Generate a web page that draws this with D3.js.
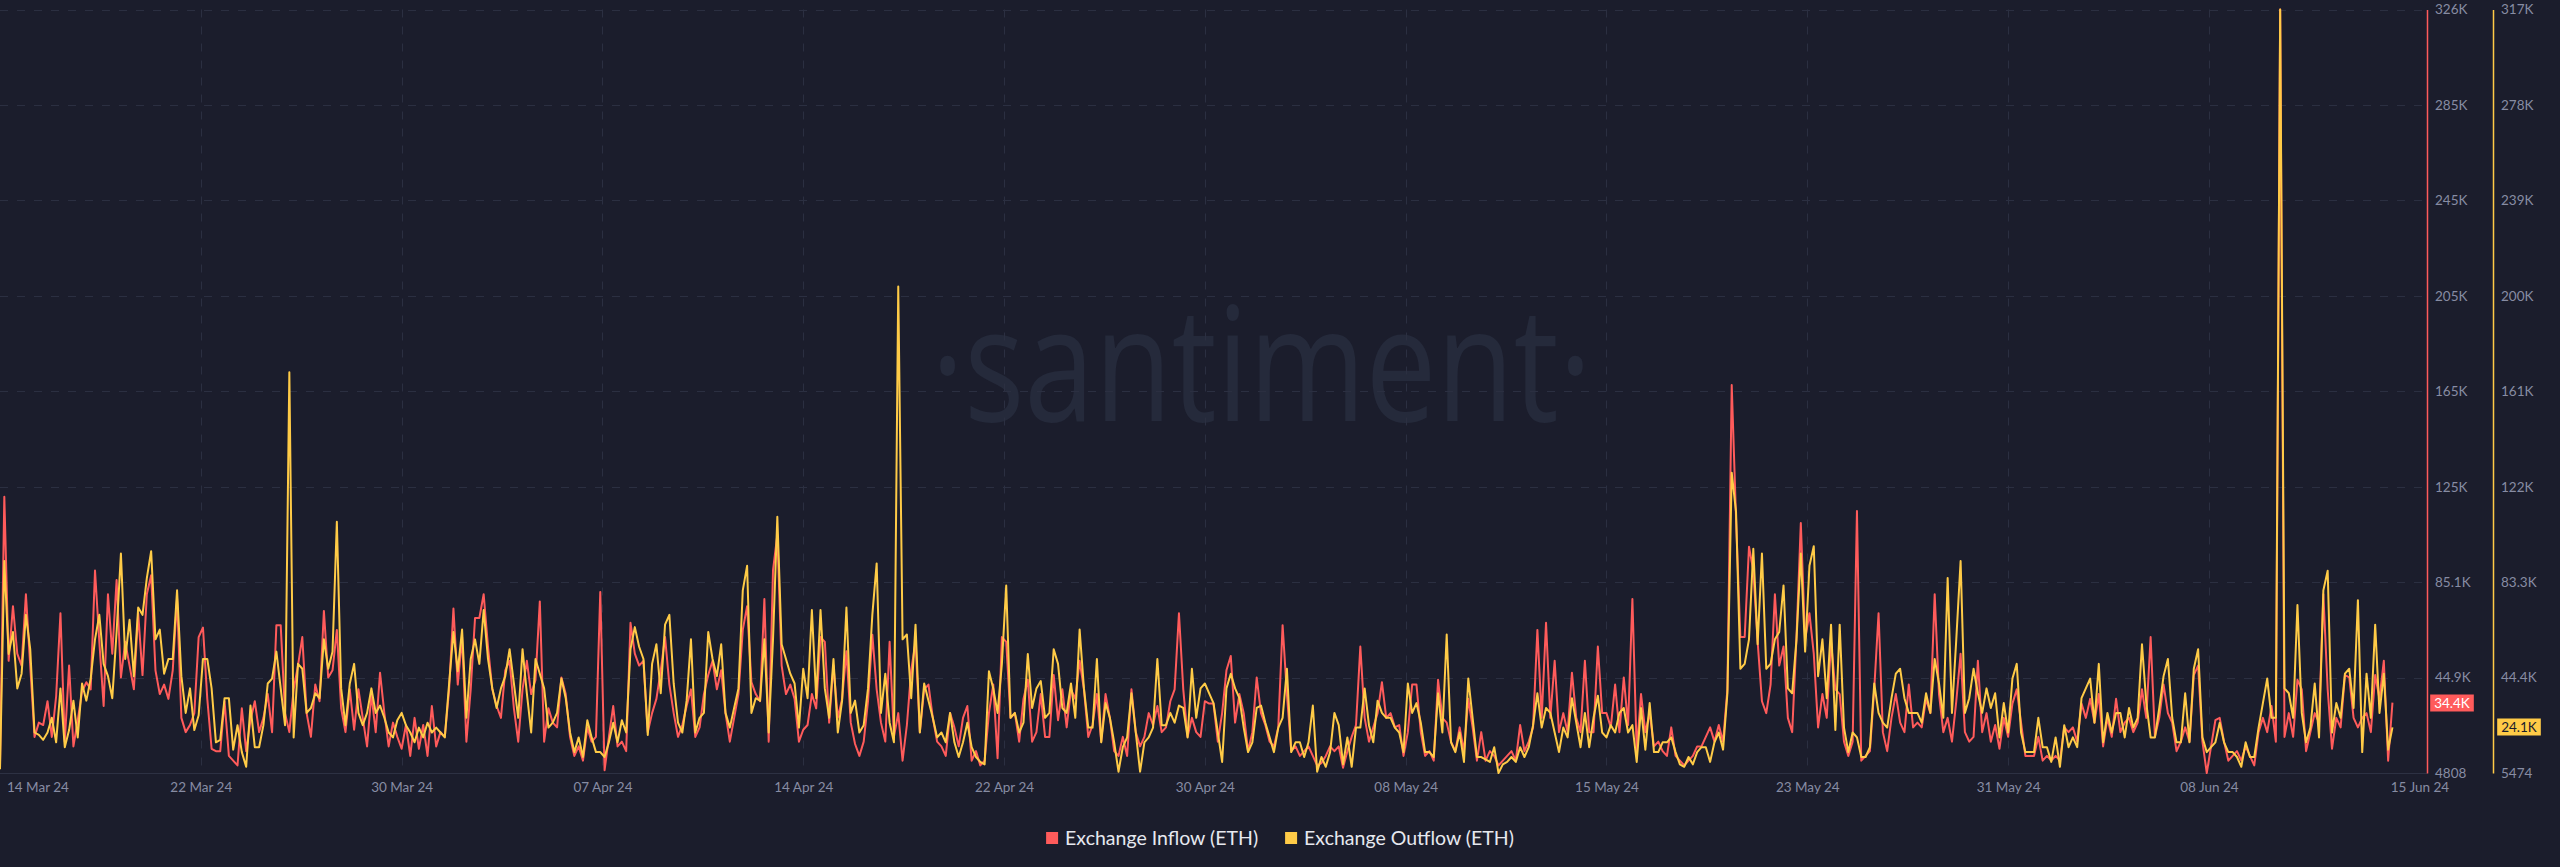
<!DOCTYPE html>
<html>
<head>
<meta charset="utf-8">
<script src="https://cdnjs.cloudflare.com/ajax/libs/d3/7.8.5/d3.min.js"></script>
<style>
  html, body { margin: 0; padding: 0; background: #1b1d2c; }
  svg { display: block; }
  text { font-family: Lato, "Noto Sans", sans-serif; }
</style>
</head>
<body>
<svg id="chart" width="2560" height="867"></svg>
<script>
// ETH exchange flows, 4h steps, values in thousands of ETH
const startTime = '2024-03-14T20:00:00Z';
const stepHours = 4;

const inflowK = [
  // 14 Mar - 22 Mar
  8, 121, 52, 75, 55, 50, 80, 50, 20, 26,
  25, 35, 20, 37, 72, 18, 50, 16, 27, 39,
  43, 40, 90, 60, 33, 80, 55, 86, 45, 60,
  50, 40, 72, 46, 80, 88, 48, 38, 42, 36,
  48, 78, 28, 22, 25, 30, 62, 66, 36, 15,
  14, 14, 35, 12, 10, 8, 32, 14, 27, 35,
  22, 28, 38, 22, 67, 67, 30, 22, 40, 50,
  62, 30, 20, 42, 35, 73, 45, 48, 65, 32,
  22, 40, 23, 40, 28, 16, 38, 22, 47, 30,
  16, 26, 20, 15, 25, 12, 28, 15, 25, 12,
  33, 16, 22, 20, 40, 74, 42, 62, 18, 40,
  70, 70, 80,
  // early april
  58, 40, 33, 28, 48, 52, 32, 18, 40, 52,
  38, 44, 77, 18, 32, 26, 24, 45, 38, 20,
  12, 16, 10, 24, 18, 20, 81, 6, 20, 33,
  16, 18, 14, 68, 55, 50, 52, 22, 30, 36,
  48, 62, 42, 30, 20, 25, 33, 40, 20, 24,
  38, 46, 52, 40, 48, 30, 18, 28, 38, 65,
  75, 43, 38, 35, 78, 18, 90, 105, 50, 38,
  42, 36, 18, 23, 25, 38, 32, 62, 60, 26,
  50, 28, 36, 56, 26, 17, 12, 18, 35, 63,
  40, 26, 18, 60, 20, 30, 10, 25, 48, 60,
  22, 40, 42, 28, 18, 16, 12, 30, 24, 16,
  28, 33, 10, 14,
  // late april - early may
  8, 10, 30, 42, 11, 62, 60, 28, 30, 18,
  36, 44, 18, 22, 38, 20, 20, 46, 27, 40,
  24, 40, 36, 52, 40, 20, 25, 38, 18, 38,
  28, 14, 12, 20, 12, 40, 22, 16, 20, 30,
  25, 33, 22, 24, 35, 40, 72, 40, 20, 28,
  22, 20, 35, 34, 34, 18, 30, 48, 54, 26,
  38, 30, 14, 22, 45, 30, 25, 18, 16, 24,
  67, 38, 14, 16, 12, 14, 16, 12, 8, 9,
  12, 16, 14, 16, 7, 14, 20, 25, 58, 28,
  18, 24, 30, 43, 28, 30, 24, 25, 12, 22,
  42, 42, 22, 12, 14, 10, 44, 28, 26, 18,
  14, 24, 14, 36,
  // mid may - end of may
  24, 10, 22, 10, 14, 12, 8, 10, 12, 14,
  10, 25, 14, 18, 24, 65, 28, 68, 28, 52,
  22, 30, 22, 47, 28, 22, 52, 22, 22, 58,
  30, 30, 24, 42, 22, 45, 25, 78, 14, 38,
  22, 30, 16, 18, 14, 12, 24, 12, 10, 8,
  10, 12, 16, 16, 20, 24, 18, 25, 18, 40,
  168, 112, 62, 62, 100, 90, 60, 35, 30, 42,
  80, 50, 58, 28, 22, 62, 110, 61, 72, 55,
  24, 38, 28, 60, 40, 38, 18, 12, 18, 115,
  10, 12, 14, 40, 72, 22, 14, 28, 38, 26,
  22, 42, 24, 26, 24, 36, 30, 80, 38, 22,
  28, 18, 35, 55, 22,
  // june
  18, 20,
  52, 22, 30, 18, 25, 15, 28, 20, 34, 40,
  26, 12, 12, 12, 20, 10, 12, 10, 12, 10,
  24, 22, 24, 18, 34, 28, 36, 26, 38, 16,
  28, 20, 36, 22, 26, 28, 22, 26, 40, 28,
  62, 20, 28, 42, 30, 26, 14, 18, 24, 18,
  46, 50, 18, 4.808, 16, 27, 28, 18, 10, 12,
  14, 10, 16, 12, 8, 22, 28, 22, 33, 18,
  326,
  20, 30, 20, 44, 40, 14, 22, 30, 26, 80,
  40, 15, 28, 24, 46, 45, 28, 24, 28, 30,
  22, 46, 36, 52, 10, 34.4
];

const outflowK = [
  // 14 Mar - 22 Mar
  7, 92, 54, 63, 40, 46, 70, 56, 22, 21,
  19, 22, 28, 18, 40, 16, 23, 35, 20, 42,
  35, 44, 60, 70, 50, 45, 36, 63, 95, 52,
  68, 45, 73, 70, 85, 96, 60, 64, 46, 52,
  52, 80, 45, 30, 40, 23, 29, 52, 52, 40,
  18, 19, 36, 36, 15, 25, 14, 8, 33, 16,
  16, 25, 42, 44, 55, 40, 25, 169, 20, 50,
  48, 30, 32, 38, 36, 60, 48, 55, 108, 40,
  25, 42, 50, 30, 25, 30, 40, 30, 33, 28,
  22, 20, 27, 30, 25, 22, 18, 24, 20, 26,
  22, 24, 22, 20, 42, 63, 47, 64, 28, 52,
  60, 50, 72,
  // early april
  52, 40, 32, 40, 45, 56, 42, 28, 56, 38,
  22, 52, 46, 40, 24, 26, 30, 44, 36, 22,
  14, 20, 12, 27, 20, 14, 14, 12, 18, 26,
  18, 27, 22, 56, 65, 57, 52, 21, 50, 58,
  38, 66, 70, 42, 26, 22, 35, 60, 22, 28,
  30, 63, 52, 45, 58, 30, 24, 32, 40, 80,
  90, 30, 36, 35, 60, 22, 60, 110, 58, 52,
  46, 42, 24, 48, 36, 72, 36, 72, 40, 28,
  52, 22, 35, 73, 30, 35, 22, 25, 40, 70,
  91, 30, 46, 26, 18, 204, 60, 62, 36, 66,
  22, 42, 35, 28, 20, 22, 18, 30, 18, 12,
  18, 26, 16, 12,
  // late april - early may
  10, 9, 47, 40, 30, 50, 82, 28, 30, 22,
  26, 54, 32, 40, 43, 28, 30, 56, 50, 32,
  30, 42, 28, 64, 40, 24, 24, 52, 18, 34,
  28, 18, 6, 16, 20, 38, 22, 6, 18, 20,
  24, 52, 25, 25, 30, 26, 33, 32, 20, 48,
  28, 40, 42, 38, 34, 22, 10, 40, 46, 40,
  36, 24, 14, 18, 32, 33, 26, 20, 14, 24,
  28, 48, 14, 18, 18, 12, 18, 33, 6, 12,
  8, 14, 30, 25, 9, 20, 8, 24, 24, 40,
  25, 18, 35, 30, 28, 28, 24, 22, 14, 42,
  30, 34, 26, 14, 14, 12, 38, 22, 62, 18,
  14, 22, 10, 44,
  // mid may - end of may
  28, 12, 12, 11, 10, 16, 5.474, 9, 10, 12,
  10, 16, 12, 16, 25, 38, 24, 32, 30, 22,
  14, 24, 20, 36, 26, 16, 30, 16, 28, 37,
  22, 20, 25, 22, 30, 32, 22, 25, 10, 32,
  15, 34, 14, 14, 18, 18, 20, 14, 9, 8,
  12, 9, 14, 16, 16, 10, 18, 22, 15, 38,
  128, 112, 48, 50, 60, 97, 58, 95, 48, 50,
  60, 63, 82, 40, 38, 60, 95, 55, 90, 98,
  45, 60, 36, 66, 23, 66, 24, 14, 22, 20,
  12, 12, 16, 42, 30, 26, 24, 36, 46, 48,
  36, 30, 30, 30, 26, 38, 30, 52, 42, 28,
  85, 30, 60, 92, 30,
  // june
  36, 48,
  38, 30, 40, 32, 38, 20, 34, 22, 44, 50,
  22, 14, 14, 14, 28, 16, 16, 10, 20, 8,
  25, 16, 20, 16, 36, 40, 44, 26, 50, 18,
  30, 22, 30, 30, 20, 32, 24, 28, 58, 34,
  20, 20, 32, 45, 52, 28, 18, 18, 38, 18,
  48, 56, 20, 14, 16, 18, 26, 18, 14, 14,
  12, 8, 18, 12, 12, 24, 34, 44, 28, 28,
  317,
  40, 38, 28, 74, 30, 18, 24, 42, 20, 80,
  88, 22, 34, 28, 46, 48, 32, 76, 14, 46,
  28, 66, 30, 46, 15, 24.1
];

const seriesNames = ['Exchange Inflow (ETH)', 'Exchange Outflow (ETH)'];
const xTickTimes = [
  '2024-03-22T14:00:00Z', '2024-03-30T08:00:00Z', '2024-04-07T02:00:00Z',
  '2024-04-14T20:00:00Z', '2024-04-22T14:00:00Z', '2024-04-30T08:00:00Z',
  '2024-05-08T02:00:00Z', '2024-05-15T20:00:00Z', '2024-05-23T14:00:00Z',
  '2024-05-31T08:00:00Z', '2024-06-08T02:00:00Z'
];

const colors = { red: '#ff5b5b', yellow: '#ffcb47', bg: '#1b1d2c', grid: '#2b2f41', label: '#878ca3' };
const plot = { left: 0, right: 2427, top: 9.5, bottom: 773 };
const axis2X = 2493;

const svg = d3.select('#chart');
svg.append('rect').attr('width', 2560).attr('height', 867).attr('fill', colors.bg);

const t0 = new Date(startTime);
const times = inflowK.map((d, i) => d3.utcHour.offset(t0, i * stepHours));
const tEnd = d3.utcHour.offset(t0, 562 * stepHours);

const inflow = inflowK.map(v => v * 1000);
const outflow = outflowK.map(v => v * 1000);

const x = d3.scaleUtc().domain([t0, tEnd]).range([plot.left, plot.right]);
const yIn = d3.scaleLinear().domain(d3.extent(inflow)).range([plot.bottom, plot.top]);
const yOut = d3.scaleLinear().domain(d3.extent(outflow)).range([plot.bottom, plot.top]);

const splitTicks = dom => d3.range(9).map(k => dom[0] + k * (dom[1] - dom[0]) / 8);
const fmtK = v => {
  if (v < 10000) return String(Math.round(v));
  const k = v / 1000;
  return (k >= 100 ? Math.floor(k) : Math.floor(k * 10) / 10) + 'K';
};

// watermark
svg.append('text')
  .attr('x', 931).attr('y', 421)
  .attr('textLength', 661).attr('lengthAdjust', 'spacingAndGlyphs')
  .style('font-family', '"Open Sans", sans-serif')
  .style('font-weight', 400)
  .style('font-size', '160px')
  .attr('fill', '#252a3b')
  .text('\u00B7santiment\u00B7');

// grid
const grid = svg.append('g').attr('stroke', colors.grid).attr('stroke-dasharray', '8,9').attr('stroke-width', 1);
grid.selectAll('.h').data(splitTicks(yIn.domain())).enter().append('line')
  .attr('x1', plot.left).attr('x2', plot.right)
  .attr('y1', d => Math.round(yIn(d)) + 0.5).attr('y2', d => Math.round(yIn(d)) + 0.5);
grid.selectAll('.v').data(xTickTimes.map(s => new Date(s))).enter().append('line')
  .attr('x1', d => Math.round(x(d)) + 0.5).attr('x2', d => Math.round(x(d)) + 0.5)
  .attr('y1', plot.top).attr('y2', plot.bottom);

svg.append('line').attr('x1', plot.left).attr('x2', plot.right)
  .attr('y1', plot.bottom + 0.5).attr('y2', plot.bottom + 0.5)
  .attr('stroke', '#2d3143');

// lines
const lineIn = d3.line().x((d, i) => x(times[i])).y(d => yIn(d));
const lineOut = d3.line().x((d, i) => x(times[i])).y(d => yOut(d));
svg.append('path').datum(inflow).attr('d', lineIn)
  .attr('fill', 'none').attr('stroke', colors.red).attr('stroke-width', 2).attr('stroke-linejoin', 'round');
svg.append('path').datum(outflow).attr('d', lineOut)
  .attr('fill', 'none').attr('stroke', colors.yellow).attr('stroke-width', 2).attr('stroke-linejoin', 'round');

// right axes
function drawAxis(scale, xPos, color) {
  const g = svg.append('g').attr('transform', `translate(${xPos},0)`)
    .call(d3.axisRight(scale).tickValues(splitTicks(scale.domain())).tickFormat(fmtK).tickSize(0).tickPadding(8));
  g.select('.domain').attr('stroke', color).attr('stroke-width', 1.5);
  g.selectAll('text').attr('fill', colors.label).style('font-size', '13.5px').style('font-family', 'Lato, sans-serif');
  return g;
}
drawAxis(yIn, plot.right, colors.red);
drawAxis(yOut, axis2X, colors.yellow);

// last value badges
function badge(xPos, yPos, value, fill, textColor) {
  const g = svg.append('g').attr('transform', `translate(${xPos},${Math.round(yPos)})`);
  const t = g.append('text').attr('x', 22).attr('y', 0).attr('dy', '0.35em')
    .attr('text-anchor', 'middle').attr('fill', textColor)
    .style('font-size', '13.5px').text(fmtK(value));
  const w = t.node().getComputedTextLength() + 8;
  g.insert('rect', 'text').attr('x', 22 - w / 2).attr('y', -8.5).attr('width', w).attr('height', 17).attr('fill', fill);
}
badge(plot.right + 3, yIn(inflow[inflow.length - 1]), inflow[inflow.length - 1], colors.red, '#ffffff');
badge(axis2X + 4, yOut(outflow[outflow.length - 1]), outflow[outflow.length - 1], colors.yellow, '#1b1d2c');

// x axis
const fmtDate = d3.utcFormat('%d %b %y');
const xa = svg.append('g').attr('transform', `translate(0,${plot.bottom})`)
  .call(d3.axisBottom(x).tickValues(xTickTimes.map(s => new Date(s))).tickFormat(fmtDate).tickSize(0).tickPadding(9));
xa.select('.domain').remove();
xa.selectAll('text').attr('fill', colors.label).style('font-size', '13.5px').style('font-family', 'Lato, sans-serif');
svg.append('text').attr('x', 7).attr('y', plot.bottom + 19)
  .attr('fill', colors.label).style('font-size', '13.5px').text(fmtDate(times[0]));
svg.append('text').attr('x', plot.right - 7).attr('y', plot.bottom + 19).attr('text-anchor', 'middle')
  .attr('fill', colors.label).style('font-size', '13.5px').text(fmtDate(times[times.length - 1]));

// legend
const legend = svg.append('g');
let lx = 0;
[colors.red, colors.yellow].forEach((c, i) => {
  const item = legend.append('g').attr('transform', `translate(${lx},0)`);
  item.append('rect').attr('x', 0).attr('y', -6).attr('width', 12).attr('height', 12).attr('fill', c);
  const t = item.append('text').attr('x', 19).attr('y', 0).attr('dy', '0.35em')
    .attr('fill', '#e6e8ef').style('font-size', '19.5px').text(seriesNames[i]);
  lx += 19 + t.node().getComputedTextLength() + 27;
});
const lw = lx - 27;
legend.attr('transform', `translate(${1280 - lw / 2},838)`);
</script>
</body>
</html>
